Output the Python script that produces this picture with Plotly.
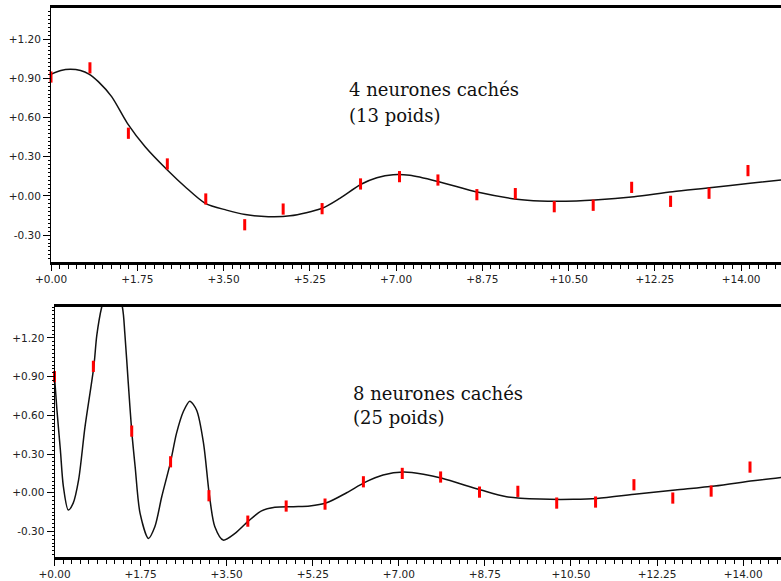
import plotly.graph_objects as go

W, H = 781, 581

# ---------------- data ----------------
x_ticks = [0.0, 1.75, 3.5, 5.25, 7.0, 8.75, 10.5, 12.25, 14.0]
x_ticklabels = ["+0.00", "+1.75", "+3.50", "+5.25", "+7.00", "+8.75", "+10.50", "+12.25", "+14.00"]
y_ticks = [-0.3, 0.0, 0.3, 0.6, 0.9, 1.2]
y_ticklabels = ["-0.30", "+0.00", "+0.30", "+0.60", "+0.90", "+1.20"]

# training samples (red marks)
sample_x = [0.00, 0.79, 1.57, 2.36, 3.14, 3.93, 4.71, 5.50, 6.28, 7.07,
            7.85, 8.64, 9.42, 10.21, 11.00, 11.78, 12.57, 13.35, 14.14]
top_obs = [0.91, 0.98, 0.48, 0.245, -0.023, -0.22, -0.10, -0.097, 0.092, 0.148,
           0.122, 0.010, 0.018, -0.082, -0.071, 0.066, -0.041, 0.021, 0.194]
bot_obs = [0.90, 0.98, 0.478, 0.24, -0.023, -0.22, -0.103, -0.088, 0.085, 0.15,
           0.122, 0.005, 0.011, -0.08, -0.072, 0.062, -0.041, 0.013, 0.199]

# network output, 4 hidden neurons
top_fit_x = [0.00, 0.20, 0.39, 0.60, 0.77, 0.96, 1.23, 1.55, 1.91, 2.36, 2.72, 3.13,
             3.56, 3.94, 4.41, 4.85, 5.50, 5.86, 6.29, 6.61, 6.94, 7.28, 7.87, 8.67,
             9.45, 9.92, 10.66, 11.03, 11.83, 12.61, 13.41, 14.18, 14.81]
top_fit_y = [0.931, 0.960, 0.969, 0.960, 0.933, 0.875, 0.76, 0.556, 0.377, 0.199, 0.071, -0.056,
             -0.108, -0.142, -0.158, -0.152, -0.094, -0.018, 0.09, 0.14, 0.163, 0.158, 0.109, 0.028,
             -0.025, -0.038, -0.038, -0.031, -0.005, 0.033, 0.064, 0.097, 0.122]

# network output, 8 hidden neurons
bot_fit_x = [0.00, 0.05, 0.12, 0.18, 0.28, 0.38, 0.49, 0.62, 0.80, 0.86, 0.96, 1.17, 1.38,
             1.43, 1.50, 1.57, 1.64, 1.74, 1.91, 2.04, 2.18, 2.36, 2.48, 2.62, 2.75, 2.89,
             3.03, 3.15, 3.26, 3.43, 3.67, 3.94, 4.21, 4.48, 4.86, 5.19, 5.53, 5.94, 6.31,
             6.68, 7.10, 7.50, 7.88, 8.67, 9.19, 9.87, 10.55, 11.03, 11.84, 12.62, 13.42,
             14.20, 14.77]
bot_fit_y = [0.90, 0.64, 0.33, 0.05, -0.134, -0.08, 0.10, 0.51, 0.98, 1.22, 1.44, 1.70, 1.44,
             1.235, 0.85, 0.478, 0.20, -0.16, -0.354, -0.264, -0.031, 0.24, 0.46, 0.63, 0.71, 0.64,
             0.383, -0.023, -0.264, -0.367, -0.315, -0.22, -0.14, -0.113, -0.108, -0.103, -0.078, 0.0, 0.08,
             0.137, 0.16, 0.143, 0.112, 0.021, -0.031, -0.049, -0.051, -0.044, -0.01, 0.021, 0.052,
             0.093, 0.119]

labels_top = ["4 neurones cachés", "(13 poids)"]
labels_bot = ["8 neurones cachés", "(25 poids)"]

# ---------------- figure ----------------
fig = go.Figure()

line_style = dict(color="#111111", width=1.5, shape="spline", smoothing=0.8)
mark_style = dict(symbol="line-ns", size=8, line=dict(color="#ff0000", width=3), color="#ff0000")

fig.add_trace(go.Scatter(x=top_fit_x, y=top_fit_y, mode="lines", line=line_style,
                         xaxis="x", yaxis="y", hoverinfo="skip"))
fig.add_trace(go.Scatter(x=sample_x, y=top_obs, mode="markers", marker=mark_style,
                         xaxis="x", yaxis="y", cliponaxis=False))
fig.add_trace(go.Scatter(x=bot_fit_x, y=bot_fit_y, mode="lines", line=line_style,
                         xaxis="x2", yaxis="y2", hoverinfo="skip"))
fig.add_trace(go.Scatter(x=sample_x, y=bot_obs, mode="markers", marker=mark_style,
                         xaxis="x2", yaxis="y2", cliponaxis=False))

tickfont = dict(family="DejaVu Sans", size=10.5, color="#222222")

def xax(domain, rng, anchor):
    return dict(domain=domain, range=rng, anchor=anchor, automargin=False,
                tickmode="array", tickvals=x_ticks, ticktext=x_ticklabels,
                ticks="outside", ticklen=6, tickwidth=1, tickcolor="#000",
                showline=True, linewidth=2.5, linecolor="#000", mirror=True,
                showgrid=False, zeroline=False, tickfont=tickfont,
                minor=dict(tickmode="linear", tick0=0, dtick=0.175, ticks="outside",
                           ticklen=4, tickwidth=1, tickcolor="#000"))

def yax(domain, rng, anchor):
    return dict(domain=domain, range=rng, anchor=anchor, automargin=False,
                tickmode="array", tickvals=y_ticks, ticktext=y_ticklabels,
                ticks="outside", ticklen=7, tickwidth=1, tickcolor="#000",
                showline=True, linewidth=1, linecolor="#000",
                showgrid=False, zeroline=False, tickfont=tickfont,
                minor=dict(tickmode="linear", tick0=0, dtick=0.03, ticks="outside",
                           ticklen=2, tickwidth=1, tickcolor="#000"))

def yin(over, rng, anchor):
    return dict(overlaying=over, range=rng, anchor=anchor, side="left", automargin=False,
                tickmode="array", tickvals=y_ticks, ticks="inside", ticklen=2,
                tickwidth=1, tickcolor="#000", showticklabels=False,
                showline=False, showgrid=False, zeroline=False,
                minor=dict(tickmode="linear", tick0=0, dtick=0.03, ticks="inside",
                           ticklen=2, tickwidth=1, tickcolor="#000"))

top_xr = [0, 14.81]
top_yr = [-0.505, 1.438]
bot_xr = [0, 14.77]
bot_yr = [-0.498, 1.44]

fig.update_layout(
    width=W, height=H,
    margin=dict(l=0, r=0, t=0, b=0, autoexpand=False),
    paper_bgcolor="white", plot_bgcolor="white",
    showlegend=False,
    xaxis=xax([51 / W, 1], top_xr, "y"),
    yaxis=yax([(H - 262) / H, (H - 8) / H], top_yr, "x"),
    xaxis2=xax([54.5 / W, 1], bot_xr, "y2"),
    yaxis2=yax([(H - 557) / H, (H - 307) / H], bot_yr, "x2"),
    yaxis3=yin("y", top_yr, "x"),
    yaxis4=yin("y2", bot_yr, "x2"),
)

annfont = dict(family="DejaVu Serif", size=18, color="#111111")
for txt, px, py in [(labels_top[0], 347, 90), (labels_top[1], 347, 116),
                    (labels_bot[0], 351, 393), (labels_bot[1], 351, 417)]:
    fig.add_annotation(text=txt, xref="paper", yref="paper", x=px / W, y=(H - py) / H,
                       xanchor="left", yanchor="middle", showarrow=False, font=annfont)

fig.write_html("out.html",
               config={"displayModeBar": False},
               post_script="document.body.style.margin='0px';"
                           "document.body.style.overflow='hidden';")
